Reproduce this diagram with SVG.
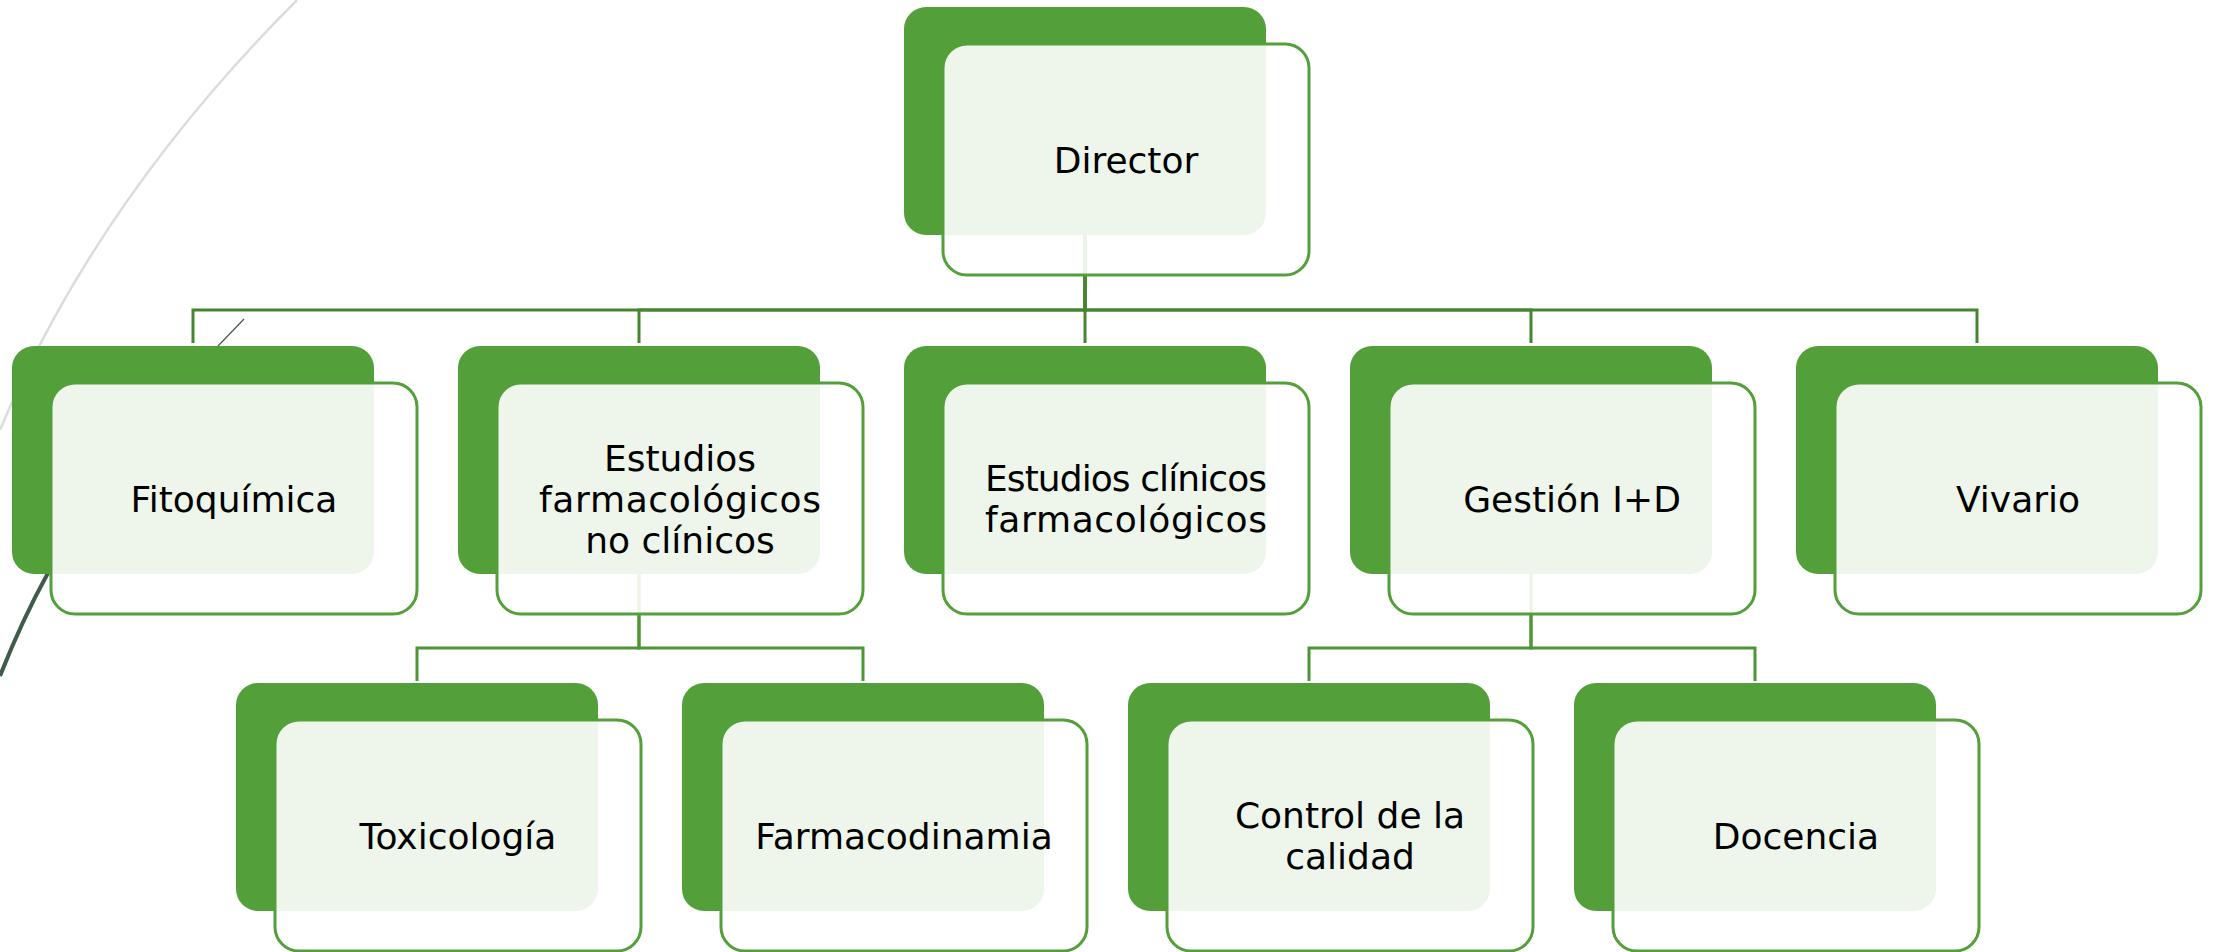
<svg xmlns="http://www.w3.org/2000/svg" width="2215" height="952" viewBox="0 0 2215 952">
<style>
.dk{fill:#539F3A}
.ol{fill:#FFFFFF;fill-opacity:0.9;stroke:#539F3A;stroke-width:3}
.c1{fill:none;stroke:#46852F;stroke-width:3}
.c2{fill:none;stroke:#4C9636;stroke-width:3}
.t{font-family:"DejaVu Sans","Liberation Sans",sans-serif;font-size:36px;fill:#000000;text-anchor:middle}
</style>
<rect x="0" y="0" width="2215" height="952" fill="#FFFFFF"/>
<g id="decor">
<path d="M297 0 Q96 201 0 430" fill="none" stroke="#D9DDDB" stroke-width="2.5"/>
<path d="M48 573 Q22 620 0 676" fill="none" stroke="#3F5B4C" stroke-width="4"/>
<path d="M244 319 L218 346" fill="none" stroke="#3F5B4C" stroke-width="1.2"/>
</g>
<g id="connectors">
<path class="c1" d="M1085 121 V310 H193 V343"/>
<path class="c1" d="M1085 121 V310 H639 V343"/>
<path class="c1" d="M1085 121 V343"/>
<path class="c1" d="M1085 121 V310 H1531 V343"/>
<path class="c1" d="M1085 121 V310 H1977 V343"/>
<path class="c2" d="M639 460 V648 H417 V681"/>
<path class="c2" d="M639 460 V648 H863 V681"/>
<path class="c2" d="M1531 460 V648 H1309 V681"/>
<path class="c2" d="M1531 460 V648 H1755 V681"/>
</g>
<g id="n-director">
<rect class="dk" x="904" y="7" width="362" height="228" rx="22"/>
<rect class="ol" x="943" y="44" width="366" height="231" rx="24"/>
<text class="t" x="1126" y="172.5">Director</text>
</g>
<g id="n-fitoquimica">
<rect class="dk" x="12" y="346" width="362" height="228" rx="22"/>
<rect class="ol" x="51" y="383" width="366" height="231" rx="24"/>
<text class="t" x="234" y="511.5">Fitoquímica</text>
</g>
<g id="n-estudios-no-clinicos">
<rect class="dk" x="458" y="346" width="362" height="228" rx="22"/>
<rect class="ol" x="497" y="383" width="366" height="231" rx="24"/>
<text class="t" x="680" y="470.5">Estudios</text>
<text class="t" x="680" y="511.5" textLength="282" lengthAdjust="spacing">farmacológicos</text>
<text class="t" x="680" y="552.5">no clínicos</text>
</g>
<g id="n-estudios-clinicos">
<rect class="dk" x="904" y="346" width="362" height="228" rx="22"/>
<rect class="ol" x="943" y="383" width="366" height="231" rx="24"/>
<text class="t" x="1126" y="491" textLength="282" lengthAdjust="spacing">Estudios clínicos</text>
<text class="t" x="1126" y="532" textLength="282" lengthAdjust="spacing">farmacológicos</text>
</g>
<g id="n-gestion">
<rect class="dk" x="1350" y="346" width="362" height="228" rx="22"/>
<rect class="ol" x="1389" y="383" width="366" height="231" rx="24"/>
<text class="t" x="1572" y="511.5">Gestión I+D</text>
</g>
<g id="n-vivario">
<rect class="dk" x="1796" y="346" width="362" height="228" rx="22"/>
<rect class="ol" x="1835" y="383" width="366" height="231" rx="24"/>
<text class="t" x="2018" y="511.5">Vivario</text>
</g>
<g id="n-toxicologia">
<rect class="dk" x="236" y="683" width="362" height="228" rx="22"/>
<rect class="ol" x="275" y="720" width="366" height="231" rx="24"/>
<text class="t" x="458" y="848.5">Toxicología</text>
</g>
<g id="n-farmacodinamia">
<rect class="dk" x="682" y="683" width="362" height="228" rx="22"/>
<rect class="ol" x="721" y="720" width="366" height="231" rx="24"/>
<text class="t" x="904" y="848.5">Farmacodinamia</text>
</g>
<g id="n-control">
<rect class="dk" x="1128" y="683" width="362" height="228" rx="22"/>
<rect class="ol" x="1167" y="720" width="366" height="231" rx="24"/>
<text class="t" x="1350" y="828">Control de la</text>
<text class="t" x="1350" y="869">calidad</text>
</g>
<g id="n-docencia">
<rect class="dk" x="1574" y="683" width="362" height="228" rx="22"/>
<rect class="ol" x="1613" y="720" width="366" height="231" rx="24"/>
<text class="t" x="1796" y="848.5">Docencia</text>
</g>
</svg>
